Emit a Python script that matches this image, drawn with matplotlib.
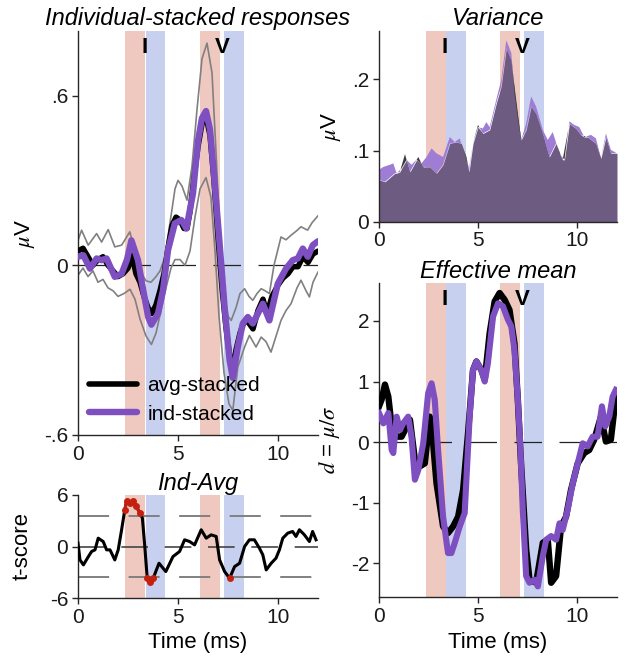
import numpy as np
import matplotlib
matplotlib.use("Agg")
import matplotlib.pyplot as plt

plt.rcParams['font.family'] = ['Liberation Sans', 'DejaVu Sans']
plt.rcParams['mathtext.fontset'] = 'stix'
plt.rcParams['axes.unicode_minus'] = False

# ---------------- data ----------------
# analysis windows (ms)
win_I_pre = [2.37, 3.37]
win_I_post = [3.40, 4.37]
win_V_pre = [6.10, 7.10]
win_V_post = [7.32, 8.30]

# Individual-stacked responses (uV)
t_avg = [0, 0.25, 0.5, 0.75, 1.0, 1.25, 1.5, 1.75, 2.0, 2.25, 2.5, 2.7, 2.9, 3.1, 3.3, 3.5, 3.7,
         3.9, 4.1, 4.3, 4.5, 4.7, 4.9, 5.1, 5.3, 5.45, 5.6, 5.8, 6.0, 6.2, 6.4, 6.6, 6.8, 7.0,
         7.2, 7.4, 7.6, 7.75, 7.9, 8.1, 8.3, 8.5, 8.75, 9.0, 9.25, 9.45, 9.7, 10.0, 10.25, 10.5,
         10.75, 11.0, 11.25, 11.5, 11.75, 12.0]
avg_stacked = [0.05, 0.06, 0.03, 0.0, 0.02, 0.03, 0.0, -0.02, -0.04, -0.03, -0.01, 0.035, -0.03,
               -0.06, -0.11, -0.15, -0.17, -0.14, -0.09, -0.03, 0.06, 0.14, 0.17, 0.16, 0.13, 0.13,
               0.19, 0.31, 0.42, 0.50, 0.525, 0.46, 0.30, 0.10, -0.08, -0.22, -0.33, -0.36, -0.30,
               -0.24, -0.20, -0.20, -0.225, -0.16, -0.12, -0.17, -0.11, -0.07, -0.045, -0.03,
               -0.005, -0.005, 0.03, 0.01, 0.04, 0.05]

t_ind = [0.0, 0.27, 0.6, 0.93, 1.18, 1.43, 1.84, 2.18, 2.45, 2.67, 3.0, 3.26, 3.51, 3.67, 4.0,
         4.25, 4.5, 4.84, 5.17, 5.42, 5.75, 6.0, 6.2, 6.4, 6.6, 6.8, 7.08, 7.33, 7.58, 7.74,
         7.99, 8.24, 8.49, 8.74, 9.07, 9.24, 9.57, 9.99, 10.4, 10.74, 10.99, 11.24, 11.49,
         11.74, 12.0]
ind_stacked = [0.03, 0.035, -0.012, 0.024, 0.018, 0.024, -0.041, -0.03, 0.02, 0.088, 0.018,
               -0.088, -0.183, -0.21, -0.171, -0.088, 0.053, 0.148, 0.16, 0.13, 0.254, 0.44,
               0.52, 0.545, 0.48, 0.32, 0.077, -0.148, -0.336, -0.398, -0.289, -0.206, -0.183,
               -0.206, -0.16, -0.136, -0.195, -0.065, -0.012, 0.018, 0.024, 0.059, 0.03, 0.071,
               0.085]

t_hi = [0, 0.18, 0.51, 0.93, 1.18, 1.51, 1.84, 2.18, 2.59, 2.85, 3.1, 3.4, 3.65, 3.9, 4.1, 4.35,
        4.6, 4.85, 5.0, 5.2, 5.45, 5.7, 5.95, 6.2, 6.45, 6.7, 6.9, 7.1, 7.3, 7.5, 7.66, 7.9,
        8.1, 8.33, 8.55, 8.74, 8.95, 9.16, 9.35, 9.57, 9.8, 10.15, 10.4, 10.65, 10.9, 11.15,
        11.48, 11.7, 12.0]
upper_band = [0.088, 0.124, 0.071, 0.112, 0.082, 0.126, 0.065, 0.071, 0.118, 0.05, -0.02,
              -0.055, -0.06, -0.04, -0.02, 0.03, 0.15, 0.27, 0.30, 0.28, 0.23, 0.35, 0.55, 0.73,
              0.785, 0.68, 0.40, 0.10, -0.10, -0.18, -0.195, -0.15, -0.10, -0.083, -0.11,
              -0.124, -0.10, -0.083, -0.09, -0.10, 0.0, 0.10, 0.09, 0.106, 0.12, 0.136, 0.124,
              0.15, 0.175]

t_lo = [0, 0.25, 0.5, 0.75, 1.0, 1.25, 1.5, 1.75, 2.0, 2.3, 2.6, 2.85, 3.1, 3.4, 3.67, 3.9,
        4.15, 4.4, 4.65, 4.85, 5.1, 5.35, 5.6, 5.85, 6.1, 6.4, 6.65, 6.85, 7.05, 7.3, 7.55,
        7.74, 7.99, 8.33, 8.57, 8.9, 9.16, 9.4, 9.65, 9.95, 10.15, 10.4, 10.65, 10.95, 11.15,
        11.4, 11.57, 11.75, 12.0]
lower_band = [-0.035, -0.01, -0.04, -0.02, -0.06, -0.05, -0.08, -0.09, -0.11, -0.10, -0.085,
              -0.12, -0.19, -0.25, -0.28, -0.24, -0.16, -0.08, -0.01, 0.02, 0.02, 0.0, 0.05,
              0.17, 0.27, 0.31, 0.24, 0.05, -0.18, -0.38, -0.49, -0.513, -0.36, -0.289, -0.248,
              -0.289, -0.254, -0.27, -0.307, -0.24, -0.195, -0.16, -0.136, -0.08, -0.053,
              -0.09, -0.112, -0.06, -0.024]

# Ind-Avg t-score
t_ts = [0, 0.1, 0.27, 0.52, 0.68, 0.85, 1.01, 1.26, 1.43, 1.6, 1.84, 2.01, 2.18, 2.34, 2.43,
        2.59, 2.76, 2.92, 3.09, 3.22, 3.34, 3.46, 3.59, 3.76, 4.05, 4.39, 4.75, 5.08, 5.33,
        5.58, 5.83, 6.16, 6.41, 6.66, 6.91, 7.08, 7.33, 7.58, 7.83, 8.08, 8.33, 8.57, 8.82,
        9.07, 9.24, 9.41, 9.66, 9.9, 10.07, 10.24, 10.49, 10.73, 10.9, 11.07, 11.32, 11.57,
        11.73, 11.9]
tscore = [0.39, -1.56, -2.14, -1.17, -0.58, -0.39, 0.97, 0.58, -0.39, -0.39, -1.56, -0.39,
          1.95, 4.28, 5.26, 5.06, 5.26, 4.67, 3.9, 3.31, 0.0, -3.7, -4.09, -3.7, -1.95, -2.92,
          -1.17, -0.58, 0.78, 0.58, 0.19, 1.95, 0.97, 1.36, 1.17, -1.56, -2.92, -3.7, -2.34,
          -1.95, 0.0, 0.78, 0.78, -0.19, -0.97, -2.73, -1.95, -1.36, -0.39, 0.97, 1.56, 1.75,
          1.17, 1.95, 1.36, 0.58, 1.75, 0.78]
t_crit = 3.6

# Variance (uV)
t_var_ind = [0, 0.22, 0.55, 0.72, 0.89, 1.14, 1.39, 1.64, 1.89, 2.14, 2.4, 2.65, 2.9, 3.23,
             3.57, 3.82, 4.07, 4.32, 4.54, 4.74, 4.99, 5.24, 5.41, 5.58, 5.91, 6.16, 6.42,
             6.67, 6.83, 7.0, 7.17, 7.42, 7.67, 7.92, 8.26, 8.51, 8.76, 9.1, 9.35, 9.6, 9.85,
             10.1, 10.35, 10.69, 10.94, 11.19, 11.44, 11.69, 12.0]
var_ind = [0.073, 0.077, 0.08, 0.082, 0.068, 0.075, 0.087, 0.08, 0.087, 0.082, 0.091, 0.103,
           0.096, 0.091, 0.119, 0.112, 0.117, 0.096, 0.075, 0.11, 0.133, 0.131, 0.14, 0.133,
           0.171, 0.199, 0.255, 0.237, 0.18, 0.143, 0.115, 0.138, 0.176, 0.162, 0.129, 0.115,
           0.126, 0.096, 0.087, 0.141, 0.136, 0.133, 0.119, 0.122, 0.117, 0.089, 0.124, 0.101,
           0.096]
t_var_avg = [0, 0.3, 0.8, 1.05, 1.31, 1.56, 1.98, 2.23, 2.56, 2.9, 3.23, 3.57, 3.9, 4.15,
             4.41, 4.54, 4.74, 4.99, 5.24, 5.58, 5.91, 6.16, 6.42, 6.67, 6.92, 7.17, 7.42,
             7.67, 7.92, 8.26, 8.59, 8.93, 9.26, 9.6, 9.93, 10.18, 10.52, 10.94, 11.19, 11.44,
             11.69, 12.0]
var_avg = [0.059, 0.056, 0.068, 0.07, 0.095, 0.07, 0.091, 0.077, 0.077, 0.068, 0.08, 0.11,
           0.112, 0.11, 0.091, 0.07, 0.11, 0.136, 0.124, 0.129, 0.166, 0.19, 0.244, 0.227,
           0.171, 0.115, 0.129, 0.162, 0.152, 0.124, 0.091, 0.11, 0.087, 0.138, 0.131, 0.122,
           0.119, 0.11, 0.089, 0.119, 0.096, 0.096]

# Effective mean d = mu/sigma
t_d_avg = [0, 0.13, 0.3, 0.47, 0.64, 0.89, 1.14, 1.31, 1.56, 1.81, 2.06, 2.31, 2.56, 2.7,
           2.9, 3.23, 3.48, 3.74, 3.99, 4.24, 4.49, 4.74, 4.91, 5.16, 5.33, 5.58, 5.83, 6.08,
           6.33, 6.58, 6.83, 7.0, 7.17, 7.42, 7.59, 7.92, 8.26, 8.51, 8.68, 8.93, 9.18, 9.43,
           9.68, 10.02, 10.35, 10.6, 10.85, 11.19, 11.44, 11.69, 11.94]
d_avg = [0.59, 0.7, 0.95, 0.75, 0.26, 0.09, 0.09, 0.2, 0.37, -0.29, -0.4, -0.35, 0.42, 0.09,
         -0.68, -1.39, -1.5, -1.39, -1.23, -0.79, 0.15, 1.19, 1.33, 1.19, 1.03, 1.8, 2.32,
         2.46, 2.35, 2.18, 1.63, 0.7, -0.4, -1.77, -2.27, -2.32, -1.66, -1.61, -2.32, -2.21,
         -1.39, -1.23, -0.79, -0.35, -0.18, -0.13, 0.04, 0.42, 0.01, 0.04, 0.75]
t_d_ind = [0, 0.22, 0.47, 0.64, 0.72, 0.89, 1.06, 1.22, 1.47, 1.64, 1.81, 1.98, 2.23, 2.48,
           2.65, 2.81, 2.98, 3.23, 3.48, 3.65, 3.82, 4.07, 4.32, 4.57, 4.74, 4.91, 5.16, 5.33,
           5.49, 5.75, 6.0, 6.25, 6.5, 6.67, 6.83, 7.0, 7.12, 7.25, 7.42, 7.59, 7.84, 8.01,
           8.26, 8.43, 8.68, 8.93, 9.1, 9.26, 9.51, 9.77, 10.02, 10.27, 10.52, 10.77, 11.02,
           11.24, 11.41, 11.61, 11.78, 11.94]
d_ind = [0.48, 0.31, 0.48, -0.13, -0.18, 0.42, 0.2, 0.31, 0.42, 0.09, -0.62, -0.46, -0.02,
         0.81, 0.97, 0.7, -0.13, -1.23, -1.83, -1.83, -1.66, -1.39, -1.17, 0.42, 1.19, 1.33,
         1.19, 1.0, 1.3, 2.07, 2.29, 2.24, 2.02, 1.91, 1.52, 0.7, -0.02, -1.12, -2.21, -2.32,
         -2.27, -2.38, -1.88, -1.61, -1.55, -1.61, -1.34, -1.45, -1.12, -0.68, -0.35, -0.02,
         -0.07, 0.09, 0.09, 0.59, 0.26, 0.42, 0.75, 0.86]

# ---------------- style ----------------
PINK = '#EFC8C0'
BLUE = '#C7D0EE'
PURPLE = '#7E4FC0'
SPINE = '#262626'
FS = 15      # tick labels
FL = 16      # axis labels
FT = 17      # titles

fig = plt.figure(figsize=(6.29, 6.66), dpi=100)
W, H = 629.0, 666.0
ax1 = fig.add_axes([78 / W, 1 - 435 / H, 240 / W, 404 / H])
ax2 = fig.add_axes([78 / W, 1 - 598 / H, 240 / W, 103 / H])
ax3 = fig.add_axes([379 / W, 1 - 221.7 / H, 238 / W, 190.7 / H])
ax4 = fig.add_axes([379 / W, 1 - 597.3 / H, 238 / W, 314 / H])


def style(ax):
    for s in ['top', 'right']:
        ax.spines[s].set_visible(False)
    for s in ['left', 'bottom']:
        ax.spines[s].set_color(SPINE)
        ax.spines[s].set_linewidth(1.0)
    ax.tick_params(direction='out', length=4, width=1.0, colors=SPINE, labelsize=FS,
                   labelcolor='#1a1a1a', pad=3)
    ax.set_xlim(0, 12)
    ax.set_xticks([0, 5, 10])
    for w, c in [(win_I_pre, PINK), (win_I_post, BLUE), (win_V_pre, PINK), (win_V_post, BLUE)]:
        ax.axvspan(w[0], w[1], color=c, lw=0, zorder=0)


def peaks(ax, yfrac):
    ax.text(3.33, yfrac, 'I', transform=ax.get_xaxis_transform(), ha='center', va='center',
            fontsize=16, fontweight='bold', zorder=5)
    ax.text(7.2, yfrac, 'V', transform=ax.get_xaxis_transform(), ha='center', va='center',
            fontsize=16, fontweight='bold', zorder=5)


for ax in (ax1, ax2, ax3, ax4):
    style(ax)

# --- top-left
ax1.axhline(0, color='#222222', lw=0.9, ls=(0, (22, 14)), zorder=1)
ax1.plot(t_hi, upper_band, color='#808080', lw=1.2, zorder=2)
ax1.plot(t_lo, lower_band, color='#808080', lw=1.2, zorder=2)
ax1.plot(t_avg, avg_stacked, color='black', lw=4.0, solid_joinstyle='round',
         solid_capstyle='round', zorder=3, label='avg-stacked')
ax1.plot(t_ind, ind_stacked, color=PURPLE, lw=4.6, solid_joinstyle='round',
         solid_capstyle='round', zorder=4, label='ind-stacked')
ax1.set_ylim(-0.6, 0.828)
ax1.set_yticks([-0.6, 0, 0.6])
ax1.set_yticklabels(['-.6', '0', '.6'])
ax1.set_ylabel(r'$\mu$V', fontsize=FL)
ax1.yaxis.set_label_coords(-0.171, 0.5)
ax1.set_title('Individual-stacked responses', fontsize=FT, style='italic', pad=4)
peaks(ax1, 0.96)
leg = ax1.legend(loc='lower left', bbox_to_anchor=(0.0, 0.0), frameon=False, fontsize=FS,
                 handlelength=2.3, handletextpad=0.48, labelspacing=0.45, borderaxespad=0.15)

# --- bottom-left t-score
ax2.axhline(t_crit, color='#808080', lw=1.4, ls=(0, (16, 10)), zorder=1)
ax2.axhline(-t_crit, color='#808080', lw=1.4, ls=(0, (16, 10)), zorder=1)
ax2.axhline(0, color='#444444', lw=1.2, ls=(0, (16, 10)), zorder=1)
ax2.plot(t_ts, tscore, color='black', lw=2.2, solid_joinstyle='round', zorder=3)
ts = np.array(tscore)
tt = np.array(t_ts)
sig = np.abs(ts) > t_crit
for i in range(len(ts) - 1):
    if sig[i] and sig[i + 1]:
        ax2.plot(tt[i:i + 2], ts[i:i + 2], color='#C42010', lw=2.2, zorder=4)
ax2.plot(tt[sig], ts[sig], 'o', color='#C42010', ms=4, zorder=4)
ax2.set_ylim(-6, 6)
ax2.set_yticks([-6, 0, 6])
ax2.set_yticklabels(['-6', '0', '6'])
ax2.set_ylabel('t-score', fontsize=FL)
ax2.yaxis.set_label_coords(-0.1875, 0.5)
ax2.set_xlabel('Time (ms)', fontsize=FL, labelpad=4)
ax2.set_title('Ind-Avg', fontsize=FT, style='italic', pad=3)

# --- top-right variance
xg = np.array(sorted(set(t_var_ind) | set(t_var_avg)))
vi = np.interp(xg, t_var_ind, var_ind)
va = np.interp(xg, t_var_avg, var_avg)
lo = np.minimum(vi, va)
ax3.fill_between(xg, 0, lo, color='#6E5B82', lw=0, zorder=2)
ax3.fill_between(xg, va, vi, where=vi >= va, interpolate=True, color='#9F7DD4', lw=0, zorder=2)
ax3.fill_between(xg, vi, va, where=va > vi, interpolate=True, color='#3C3C3C', lw=0, zorder=2)
ax3.set_ylim(0, 0.268)
ax3.set_yticks([0, 0.1, 0.2])
ax3.set_yticklabels(['0', '.1', '.2'])
ax3.set_ylabel(r'$\mu$V', fontsize=FL)
ax3.yaxis.set_label_coords(-0.151, 0.5)
ax3.set_title('Variance', fontsize=FT, style='italic', pad=4)
peaks(ax3, 0.916)

# --- bottom-right effective mean
ax4.axhline(0, color='#222222', lw=0.9, ls=(0, (22, 14)), zorder=1)
ax4.plot(t_d_avg, d_avg, color='black', lw=4.6, solid_joinstyle='round', zorder=3)
ax4.plot(t_d_ind, d_ind, color=PURPLE, lw=4.4, solid_joinstyle='round', zorder=4)
ax4.set_ylim(-2.56, 2.62)
ax4.set_yticks([-2, -1, 0, 1, 2])
ax4.set_ylabel(r'$d$ = $\mu/\sigma$', fontsize=FL)
ax4.yaxis.set_label_coords(-0.155, 0.5)
ax4.set_xlabel('Time (ms)', fontsize=FL, labelpad=4)
ax4.set_title('Effective mean', fontsize=FT, style='italic', pad=4)
peaks(ax4, 0.947)

fig.savefig('out.png', dpi=100)
